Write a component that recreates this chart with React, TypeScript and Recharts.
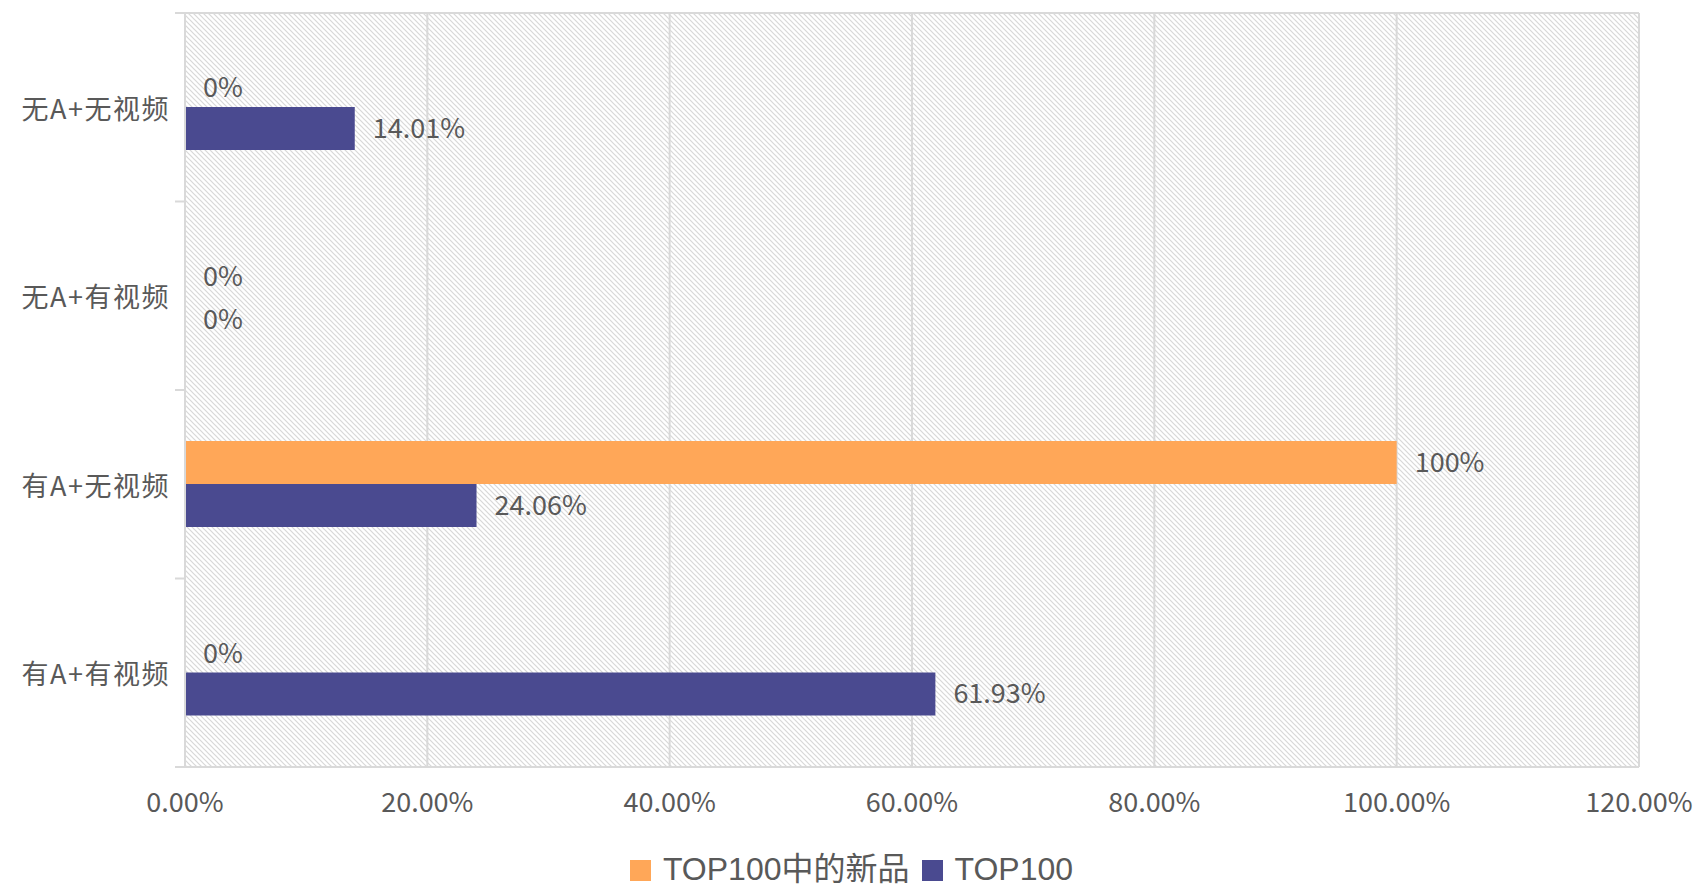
import React from 'react';
import { BarChart, Bar, XAxis, YAxis, CartesianGrid, Legend, LabelList, ReferenceDot } from 'recharts';

const categories = ['无A+无视频', '无A+有视频', '有A+无视频', '有A+有视频'];
const newProductShare = [0, 0, 100, 0];
const top100Share = [14.01, 0, 24.06, 61.93];
const xTicks = [0, 20, 40, 60, 80, 100, 120];
const seriesNames = ['TOP100中的新品', 'TOP100'];
const seriesColors = ['#FFA758', '#4A4A90'];
const boundaryTicks = [0, 1, 2, 3, 4];

const data = categories.map((name, i) => ({
  name,
  newP: newProductShare[i],
  top: top100Share[i],
}));

const FONT = '"Noto Sans CJK SC", "Noto Sans", sans-serif';
const LEGEND_FONT = '"Liberation Sans", "Noto Sans CJK SC", sans-serif';
const TEXT = '#595959';
const GRID = '#d9d9d9';
const LABEL_SIZE = 27;
const HALF_BAR = 21.7;
const CAT = 'z';
const CAT_MARGIN = 5;
const STUB = 10;

const fmt = (v: number) => `${v}%`;

const LegendContent = () => (
  <div
    style={{
      boxSizing: 'border-box',
      display: 'flex',
      justifyContent: 'center',
      alignItems: 'center',
      height: 40,
      paddingTop: 6,
      width: 1703,
      fontFamily: LEGEND_FONT,
      fontSize: 32,
      color: TEXT,
    }}
  >
    {seriesNames.map((n, i) => (
      <div key={n} style={{ display: 'flex', alignItems: 'center', marginRight: i === 0 ? 12 : 0 }}>
        <div style={{ width: 21, height: 21, background: seriesColors[i], marginRight: 12 }} />
        <span style={{ whiteSpace: 'nowrap', lineHeight: 1.1 }}>{n}</span>
      </div>
    ))}
  </div>
);

const zeroDots = [
  ...categories.map((c, i) => ({ c, v: newProductShare[i], dy: -HALF_BAR })),
  ...categories.map((c, i) => ({ c, v: top100Share[i], dy: HALF_BAR })),
].filter((d) => d.v === 0);

// Category tick: label plus a short tick stub on each category boundary
const CategoryTick = (props: any) => {
  const { x, y, payload, index, visibleTicksCount, height } = props;
  let half = payload && typeof payload.offset === 'number' && payload.offset > 0 ? payload.offset : 0;
  if (!half && height && visibleTicksCount) half = height / visibleTicksCount / 2;
  const x0 = x + CAT_MARGIN;
  const isLast = index === (visibleTicksCount ?? categories.length) - 1;
  return (
    <g>
      <text
        x={x}
        y={y}
        textAnchor="end"
        dominantBaseline="central"
        fill={TEXT}
        fontSize={27}
        fontFamily={FONT}
        letterSpacing={1.5}
      >
        {payload.value}
      </text>
      {half ? (
        <line x1={x0} x2={x0 + STUB} y1={y - half} y2={y - half} stroke={GRID} strokeWidth={2} />
      ) : null}
      {half && isLast ? (
        <line x1={x0} x2={x0 + STUB} y1={y + half} y2={y + half} stroke={GRID} strokeWidth={2} />
      ) : null}
    </g>
  );
};

export default function App() {
  return (
    <div style={{ position: 'absolute', left: 0, top: 0, width: 1703, height: 887, background: '#fff' }}>
      <BarChart
        width={1703}
        height={887}
        data={data}
        layout="vertical"
        margin={{ top: 13, right: 64, bottom: 0, left: 0 }}
        barCategoryGap="27%"
        barGap={0}
        style={{ fontFamily: FONT }}
      >
        <defs>
          <pattern id="hatch" width="5" height="5" patternUnits="userSpaceOnUse">
            <rect width="5" height="5" fill="#ffffff" />
            <path d="M0,0 L5,5 M-1,4 L1,6 M4,-1 L6,1" stroke="#d8d8d8" strokeWidth={1.2} />
          </pattern>
        </defs>
        <YAxis
          yAxisId="grid"
          type="number"
          domain={[0, 4]}
          ticks={boundaryTicks}
          tick={false}
          tickSize={10}
          width={10}
          axisLine={{ stroke: GRID, strokeWidth: 2 }}
          tickLine={{ stroke: GRID, strokeWidth: 2 }}
          orientation="left"
        />
        <YAxis
          yAxisId={CAT}
          type="category"
          dataKey="name"
          width={175}
          axisLine={false}
          tickLine={false}
          tickSize={0}
          tickMargin={CAT_MARGIN}
          interval={0}
          tick={<CategoryTick />}
        />
        <XAxis
          type="number"
          domain={[0, 120]}
          ticks={xTicks}
          tickFormatter={(v: number) => `${v.toFixed(2)}%`}
          axisLine={false}
          tickLine={false}
          tickSize={0}
          tickMargin={26}
          height={80}
          interval={0}
          tick={{ fill: TEXT, fontSize: 27, fontFamily: FONT }}
        />
        <CartesianGrid yAxisId="grid" stroke={GRID} strokeWidth={2} fill="url(#hatch)" fillOpacity={1} />
        <Legend verticalAlign="bottom" content={<LegendContent />} wrapperStyle={{ left: 0, width: 1703 }} />
        <Bar yAxisId={CAT} dataKey="newP" name={seriesNames[0]} fill={seriesColors[0]} isAnimationActive={false}>
          <LabelList
            dataKey="newP"
            position="right"
            offset={18}
            formatter={fmt}
            style={{ fill: TEXT, fontSize: LABEL_SIZE, fontFamily: FONT }}
          />
        </Bar>
        <Bar yAxisId={CAT} dataKey="top" name={seriesNames[1]} fill={seriesColors[1]} isAnimationActive={false}>
          <LabelList
            dataKey="top"
            position="right"
            offset={18}
            formatter={fmt}
            style={{ fill: TEXT, fontSize: LABEL_SIZE, fontFamily: FONT }}
          />
        </Bar>
        {zeroDots.map((d, i) => (
          <ReferenceDot
            key={`z${i}`}
            yAxisId={CAT}
            x={d.v}
            y={d.c}
            r={0}
            fill="none"
            stroke="none"
            ifOverflow="visible"
            label={(props: any) => {
              const vb = props.viewBox || {};
              const cx = (vb.x ?? 0) + (vb.width ?? 0) / 2;
              const cy = (vb.y ?? 0) + (vb.height ?? 0) / 2;
              return (
                <text
                  x={cx + 18}
                  y={cy + d.dy}
                  dominantBaseline="central"
                  fill={TEXT}
                  fontSize={LABEL_SIZE}
                  fontFamily={FONT}
                >
                  {fmt(d.v)}
                </text>
              );
            }}
          />
        ))}
      </BarChart>
    </div>
  );
}
